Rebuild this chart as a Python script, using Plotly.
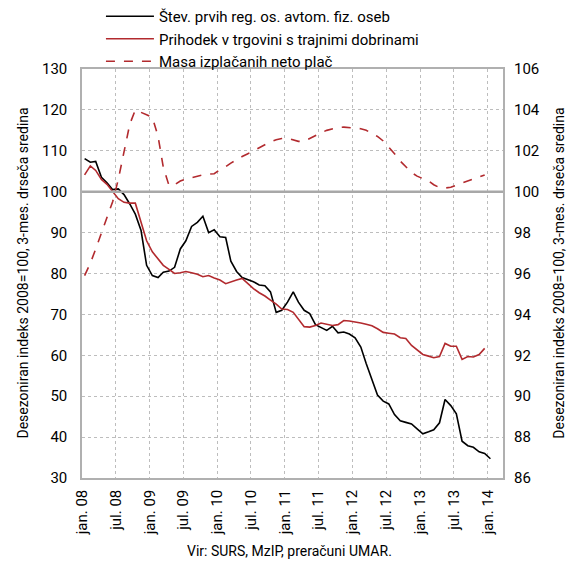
import pandas as pd
import plotly.graph_objects as go

# monthly values, jan 2008 onwards
registrations = [
    108.1, 107.2, 107.4, 103.5, 102.2, 100.5, 100.7, 99.3, 97.0, 94.5, 90.5, 82.0,
    79.5, 79.0, 80.3, 80.6, 81.5, 86.0, 88.0, 91.5, 92.5, 94.0, 90.0, 90.7,
    89.0, 88.8, 83.0, 80.5, 79.0, 78.5, 78.0, 77.2, 77.0, 75.5, 70.5, 71.0,
    73.0, 75.5, 73.0, 71.0, 70.2, 67.5, 66.8, 66.1, 67.1, 65.5, 65.7, 65.2,
    64.3, 62.0, 58.0, 53.8, 50.3, 48.8, 48.1, 45.5, 44.0, 43.6, 43.2, 42.0,
    40.8, 41.3, 41.8, 43.5, 49.2, 47.7, 45.7, 39.0, 37.9, 37.5, 36.4, 36.0,
    34.7,
]
durables = [
    104.1, 106.3, 105.2, 103.0, 101.8, 100.0, 98.3, 97.4, 97.2, 97.2, 92.5, 88.0,
    85.3, 83.5, 82.0, 81.0, 80.0, 80.2, 80.5, 80.2, 79.8, 79.2, 79.5, 78.9,
    78.4, 77.5, 78.0, 78.4, 78.8, 77.5, 76.3, 75.3, 74.5, 73.5, 72.5, 71.3,
    71.2, 70.5, 68.8, 67.0, 66.9, 67.3, 67.9, 67.6, 67.3, 67.5, 68.5, 68.4,
    68.2, 67.9, 67.6, 67.2, 66.5, 65.6, 65.4, 65.2, 64.3, 64.1, 62.4, 61.2,
    60.2, 59.8, 59.4, 59.7, 62.9, 62.2, 62.2, 59.0, 59.7, 59.6, 60.2, 61.7,
]
wages = [
    95.90, 96.50, 97.20, 98.00, 98.80, 99.52, 100.60, 101.90, 103.30, 104.00, 103.86, 103.76,
    103.64, 102.70, 101.20, 100.30, 100.34, 100.52, 100.62, 100.70, 100.76, 100.82, 100.86, 100.88,
    101.08, 101.22, 101.40, 101.58, 101.72, 101.86, 102.00, 102.16, 102.32, 102.44, 102.54, 102.60,
    102.62, 102.52, 102.46, 102.46, 102.60, 102.76, 102.88, 103.00, 103.08, 103.14, 103.16, 103.12,
    103.10, 103.08, 103.00, 102.86, 102.70, 102.48, 102.20, 101.86, 101.50, 101.22, 100.94, 100.76,
    100.62, 100.52, 100.34, 100.20, 100.18, 100.22, 100.32, 100.42, 100.52, 100.60, 100.72, 100.82,
]

tick_dates = pd.date_range("2008-01-01", "2014-01-01", freq="6MS")
tick_labels = [("jan. " if d.month == 1 else "jul. ") + d.strftime("%y") for d in tick_dates]

months = pd.date_range("2008-01-01", periods=73, freq="MS") + pd.Timedelta(days=14)

RED = "#b22a2e"
FONT = "Roboto"
axis_title = "Desezoniran indeks 2008=100, 3-mes. drseča sredina"

fig = go.Figure()
fig.add_trace(go.Scatter(
    x=months[:len(registrations)], y=registrations, mode="lines",
    name="Štev. prvih reg. os. avtom. fiz. oseb",
    line=dict(color="black", width=1.6),
))
fig.add_trace(go.Scatter(
    x=months[:len(durables)], y=durables, mode="lines",
    name="Prihodek v trgovini s trajnimi dobrinami",
    line=dict(color=RED, width=1.6),
))
fig.add_trace(go.Scatter(
    x=months[:len(wages)], y=wages, mode="lines", yaxis="y2",
    name="Masa izplačanih neto plač",
    line=dict(color=RED, width=1.6, dash="dash"),
))

fig.add_shape(type="line", xref="paper", yref="y", x0=0, x1=1, y0=100, y1=100,
              line=dict(color="#a8a8a8", width=2.5))

# axis titles and source line
fig.add_annotation(text=axis_title, xref="paper", yref="paper", x=-0.1425, y=0.5,
                   xanchor="center", yanchor="middle",
                   textangle=-90, showarrow=False, font=dict(size=14))
fig.add_annotation(text=axis_title, xref="paper", yref="paper", x=1.131, y=0.5,
                   xanchor="center", yanchor="middle",
                   textangle=-90, showarrow=False, font=dict(size=14))
fig.add_annotation(text="Vir: SURS, MzIP, preračuni UMAR.", xref="paper", yref="paper",
                   x=0.494, y=-0.178, xanchor="center", yanchor="middle",
                   showarrow=False, font=dict(size=14))

fig.update_layout(
    width=576, height=568,
    margin=dict(l=82, r=73, t=69, b=90, autoexpand=False),
    plot_bgcolor="white", paper_bgcolor="white",
    font=dict(family=FONT, size=15, color="black"),
    showlegend=True,
    legend=dict(x=0.045, y=1.0, xanchor="left", yanchor="top", yref="container",
                bgcolor="rgba(0,0,0,0)", tracegroupgap=0,
                font=dict(size=15), itemwidth=48),
    xaxis=dict(
        range=["2008-01-01", "2014-03-24"], automargin=False,
        tickvals=tick_dates, ticktext=tick_labels, tickangle=-90,
        showgrid=True, gridcolor="#bdbdbd", griddash="dot", gridwidth=1,
        showline=True, linecolor="#b0b0b0", linewidth=1.5, mirror=True,
        ticks="", tickfont=dict(size=15), ticklabelstandoff=4,
    ),
    yaxis=dict(
        range=[30, 130], dtick=10, automargin=False,
        showgrid=True, gridcolor="#bdbdbd", griddash="dot", gridwidth=1,
        showline=True, linecolor="#b0b0b0", linewidth=1.5, mirror=True,
        ticks="", zeroline=False, tickfont=dict(size=15), ticklabelstandoff=10,
    ),
    yaxis2=dict(
        range=[86, 106], dtick=2, overlaying="y", side="right", automargin=False,
        showgrid=False, zeroline=False, ticks="", tickfont=dict(size=15),
        ticklabelstandoff=10,
    ),
)

fig.write_html(
    "out.html",
    config={"responsive": False, "displayModeBar": False},
    post_script="document.body.style.margin = '0';",
)
